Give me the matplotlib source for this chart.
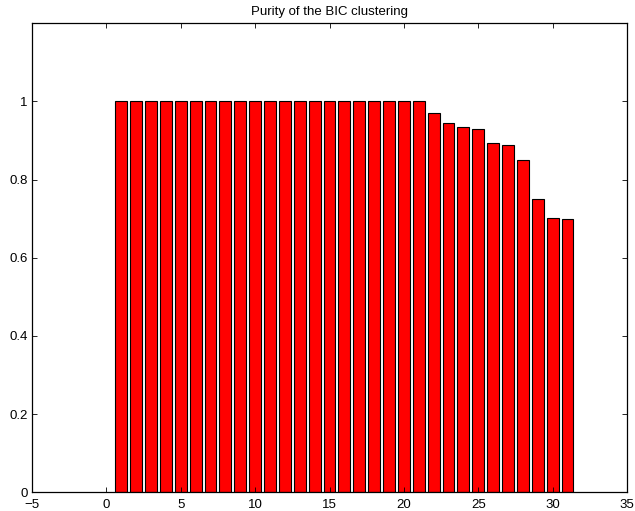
import matplotlib
matplotlib.use("Agg")
import matplotlib.pyplot as plt
import numpy as np

plt.rcParams['font.family'] = ['Liberation Sans', 'DejaVu Sans']

cluster_ids = list(range(1, 32))
purity = [1.0] * 21 + [0.970, 0.944, 0.935, 0.929, 0.893, 0.889, 0.849, 0.750, 0.702, 0.700]
x_ticks = [-5, 0, 5, 10, 15, 20, 25, 30, 35]
y_ticks = [0, 0.2, 0.4, 0.6, 0.8, 1.0]
y_tick_labels = ['0', '0.2', '0.4', '0.6', '0.8', '1']

fig = plt.figure(figsize=(6.35, 5.11), dpi=100)
ax = fig.add_axes([0.0504, 0.0366, 0.937, 0.918])

ax.bar(cluster_ids, purity, width=0.8, color='#ff0000', edgecolor='black', linewidth=0.8)

ax.set_xlim(-5, 35)
ax.set_ylim(0, 1.2)
ax.set_xticks(x_ticks)
ax.set_yticks(y_ticks)
ax.set_yticklabels(y_tick_labels)
ax.tick_params(direction='in', top=True, right=True, labelsize=9.5, length=3.3, width=0.6, pad=3)
ax.tick_params(axis='x', pad=5)
for s in ax.spines.values():
    s.set_linewidth(0.9)
ax.set_title('Purity of the BIC clustering', fontsize=9.5, pad=6)

fig.savefig('out.png', dpi=100)
